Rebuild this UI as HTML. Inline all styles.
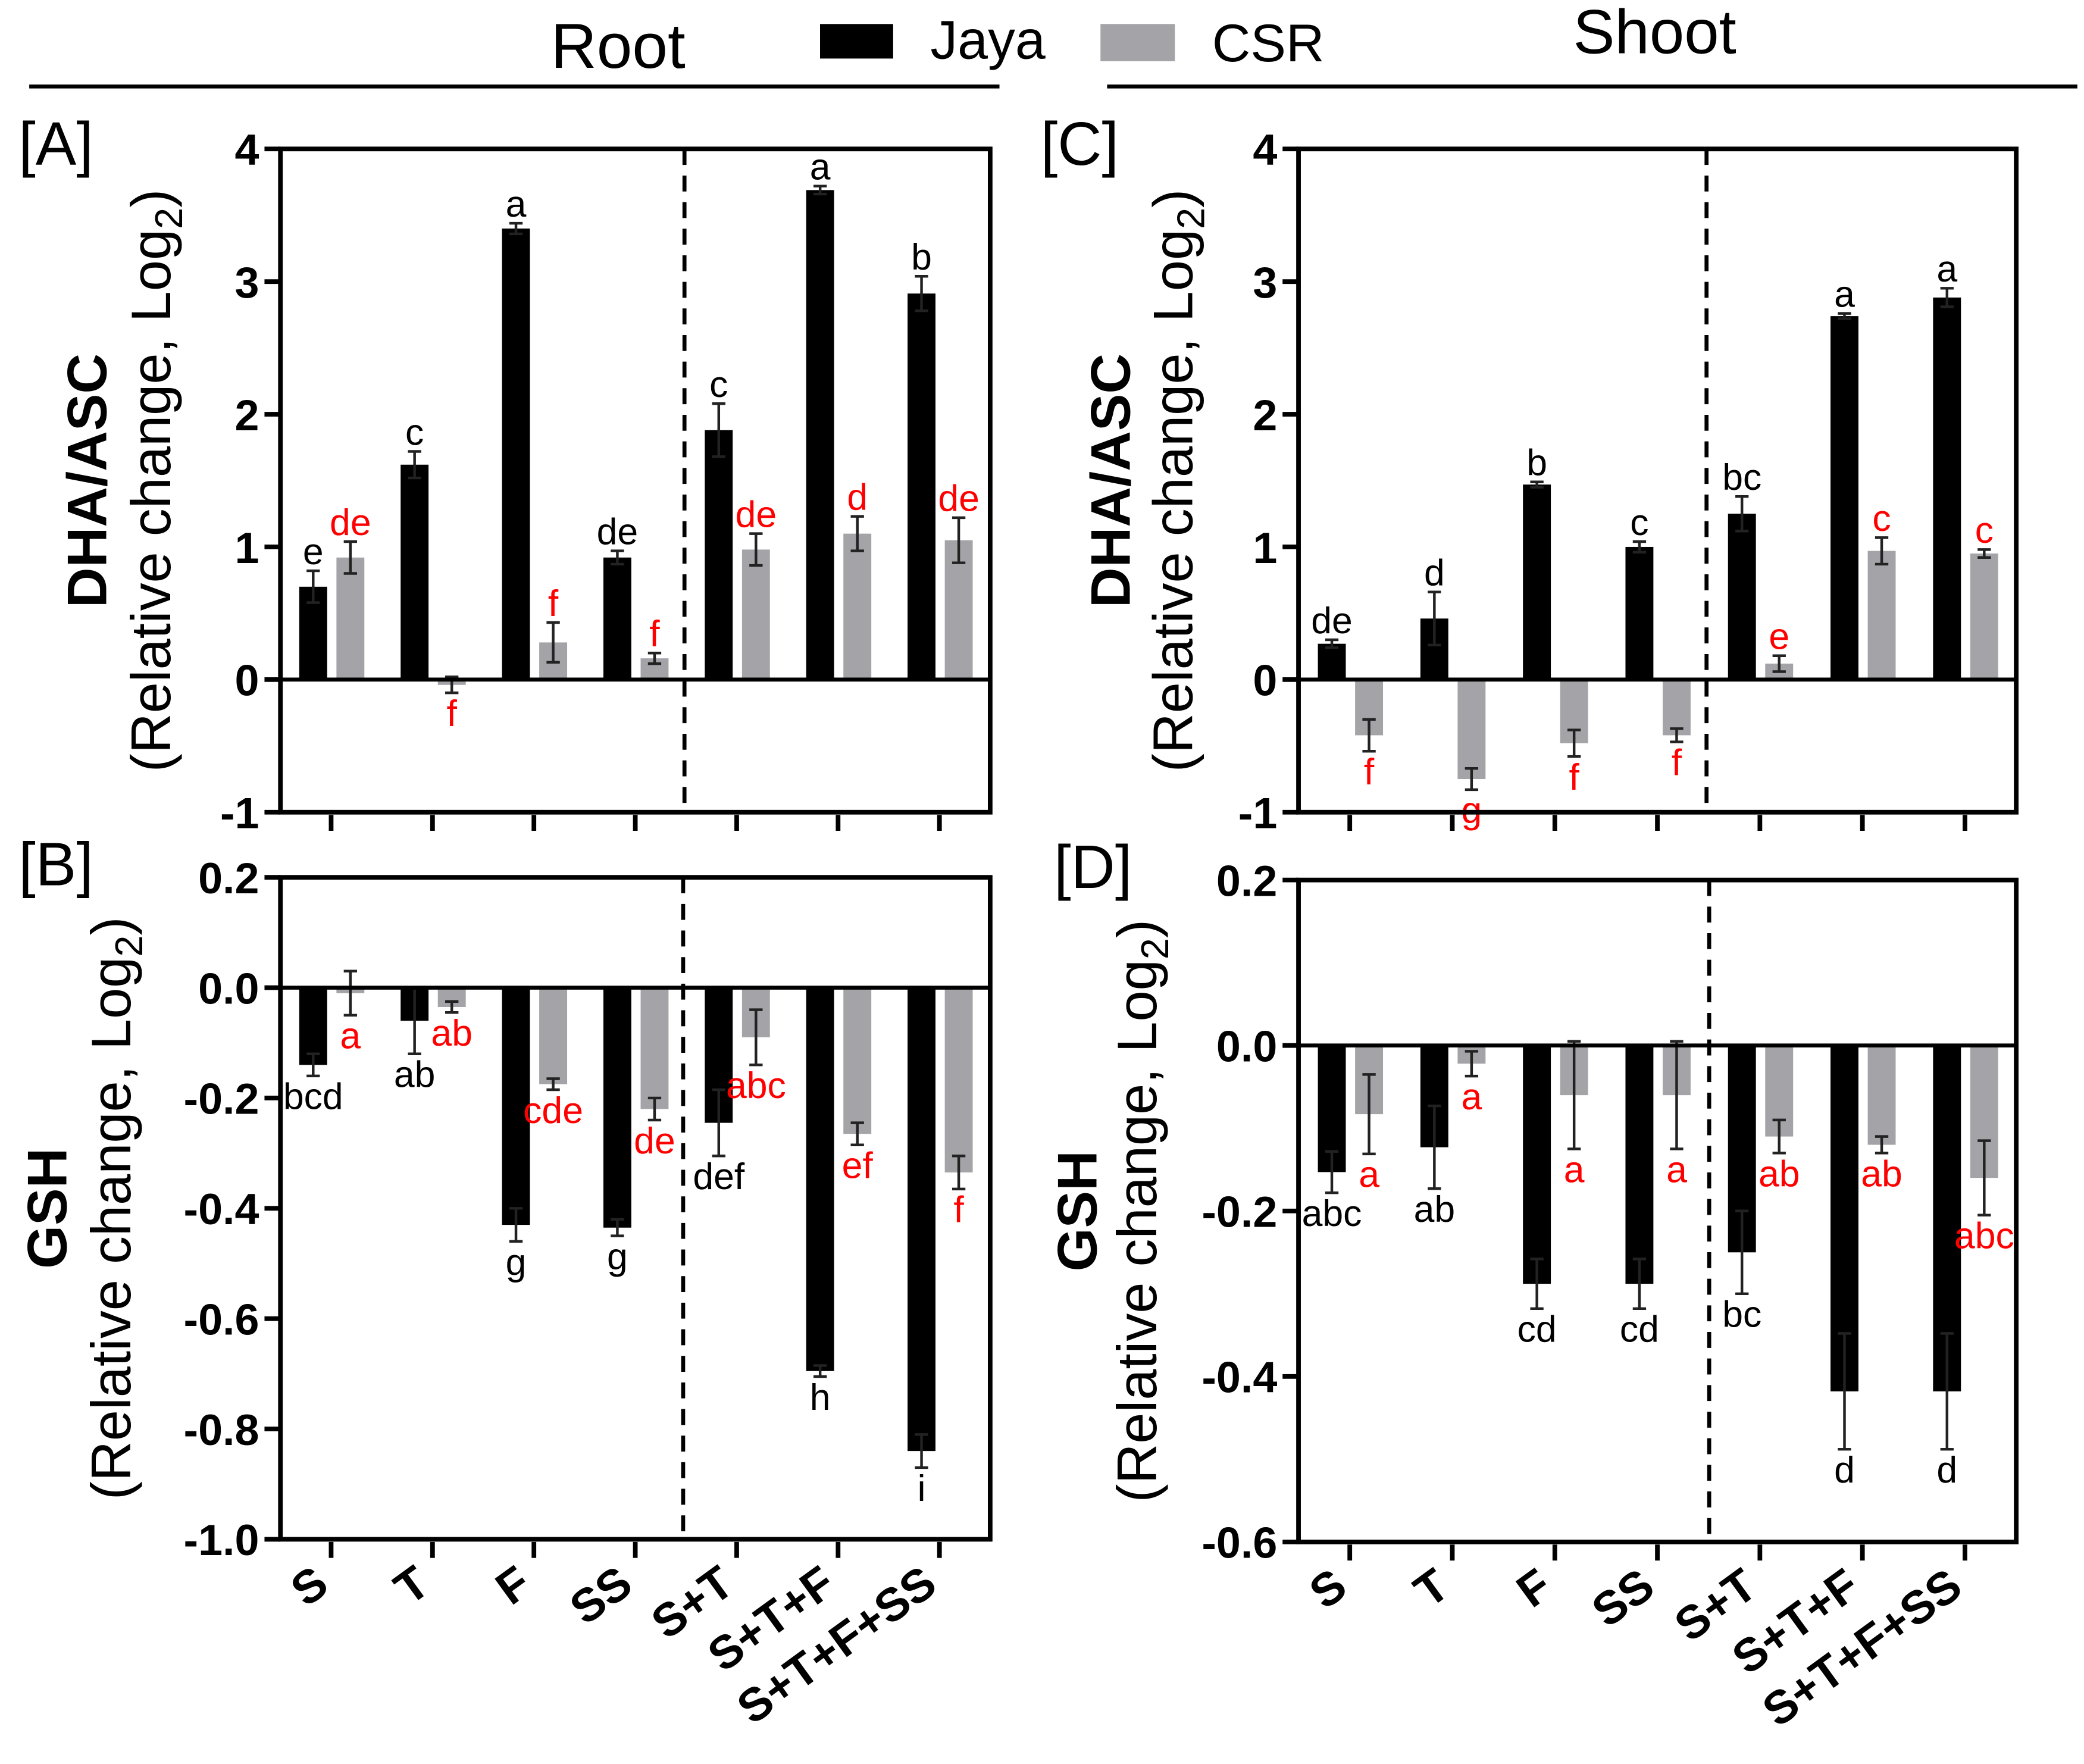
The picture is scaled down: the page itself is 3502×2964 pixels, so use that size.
<!DOCTYPE html>
<html><head><meta charset="utf-8"><style>
html,body{margin:0;padding:0;background:#fff;}
svg{display:block;font-family:"Liberation Sans",Arial,sans-serif;}
</style></head><body>
<svg id="fig" width="3502" height="2964" viewBox="0 0 1568 1327" xmlns="http://www.w3.org/2000/svg">
<rect width="1568" height="1327" fill="#fff"/>
<g>
<text x="465" y="51" font-size="48" text-anchor="middle">Root</text>
<line x1="22" y1="65" x2="752" y2="65" stroke="#000" stroke-width="3"/>
<text x="1245" y="40" font-size="47" text-anchor="middle">Shoot</text>
<line x1="833" y1="65" x2="1563" y2="65" stroke="#000" stroke-width="3"/>
<rect x="617" y="18" width="55" height="26" fill="#000"/>
<text x="700" y="44" font-size="41">Jaya</text>
<rect x="828" y="18" width="56" height="28" fill="#a3a3a8"/>
<text x="912" y="46" font-size="40">CSR</text>
</g>
<g id="plots"></g>
</svg>
<script>
const categories = ["S","T","F","SS","S+T","S+T+F","S+T+F+SS"];
// Panel A: Root DHA/ASC
const aJaya = [0.70,1.62,3.40,0.92,1.88,3.69,2.91];
const aJayaErr = [0.12,0.10,0.04,0.05,0.20,0.03,0.13];
const aCsr = [0.92,-0.04,0.28,0.16,0.98,1.10,1.05];
const aCsrErr = [0.12,0.06,0.15,0.04,0.12,0.13,0.17];
const aJayaLet = ["e","c","a","de","c","a","b"];
const aCsrLet = ["de","f","f","f","de","d","de"];
const aTicks = ["4","3","2","1","0","-1"];
// Panel B: Root GSH
const bJaya = [-0.14,-0.06,-0.43,-0.435,-0.245,-0.695,-0.84];
const bJayaErr = [0.02,0.06,0.03,0.015,0.06,0.01,0.03];
const bCsr = [-0.01,-0.035,-0.175,-0.22,-0.09,-0.265,-0.335];
const bCsrErr = [0.04,0.01,0.01,0.02,0.05,0.02,0.03];
const bJayaLet = ["bcd","ab","g","g","def","h","i"];
const bCsrLet = ["a","ab","cde","de","abc","ef","f"];
const bTicks = ["0.2","0.0","-0.2","-0.4","-0.6","-0.8","-1.0"];
// Panel C: Shoot DHA/ASC
const cJaya = [0.27,0.46,1.47,1.00,1.25,2.74,2.88];
const cJayaErr = [0.03,0.20,0.02,0.04,0.13,0.02,0.07];
const cCsr = [-0.42,-0.75,-0.48,-0.42,0.12,0.97,0.95];
const cCsrErr = [0.12,0.08,0.10,0.05,0.06,0.10,0.03];
const cJayaLet = ["de","d","b","c","bc","a","a"];
const cCsrLet = ["f","g","f","f","e","c","c"];
const cTicks = ["4","3","2","1","0","-1"];
// Panel D: Shoot GSH
const dJaya = [-0.153,-0.123,-0.288,-0.288,-0.25,-0.418,-0.418];
const dJayaErr = [0.025,0.05,0.03,0.03,0.05,0.07,0.07];
const dCsr = [-0.083,-0.022,-0.06,-0.06,-0.11,-0.12,-0.16];
const dCsrErr = [0.048,0.015,0.065,0.065,0.02,0.01,0.045];
const dJayaLet = ["abc","ab","cd","cd","bc","d","d"];
const dCsrLet = ["a","a","a","a","ab","ab","abc"];
const dTicks = ["0.2","0.0","-0.2","-0.4","-0.6"];

const NS="http://www.w3.org/2000/svg";
const root=document.getElementById('plots');
function mk(tag,attrs,parent,txt){const e=document.createElementNS(NS,tag);for(const k in attrs)e.setAttribute(k,attrs[k]);if(txt!==undefined)e.textContent=txt;(parent||root).appendChild(e);return e;}

function panel(o){
  const g=mk('g',{});
  
  
  const y=v=>o.y0+(o.ymax-v)/(o.ymax-o.ymin)*(o.y1-o.y0);
  const step=(o.x1-o.x0)/7;
  const cx=i=>o.x0+step*(i+0.5);
  const lab=mk('text',{x:o.labX,y:o.labY,'font-size':46},g,o.label);
  
  
  const t1=mk('text',{transform:`translate(${o.t1x},${(o.y0+o.y1)/2}) rotate(-90)`,'font-size':42,'font-weight':'bold','text-anchor':'middle'},g,o.title1);
  
  
  const t2=mk('text',{transform:`translate(${o.t2x},${(o.y0+o.y1)/2}) rotate(-90)`,'font-size':42,'text-anchor':'middle'},g);
  
  
  t2.innerHTML='(Relative change, Log<tspan font-size="29" dy="9">2</tspan><tspan dy="-9">)</tspan>';
  o.ticks.forEach(t=>{
    const v=parseFloat(t);const yy=y(v);
    const tl=mk('line',{x1:o.x0-12,x2:o.x0,y1:yy,y2:yy,stroke:'#000','stroke-width':3.5},g);
    
    
    const tx=mk('text',{x:o.x0-16,y:yy+12,'font-size':33,'font-weight':'bold','text-anchor':'end'},g,t);
    
    
  });
  const y0=y(0);
  function bar(v,e,xc,fill,lt,col,nm){
    const top=Math.min(y(v),y0),h=Math.abs(y(v)-y0);
    const r=mk('rect',{x:xc-10.5,y:top,width:21,height:Math.max(h,1),fill:fill},g);
    
    
    const ya=y(v+e),yb=y(v-e);
    const eb=mk('path',{d:`M${xc},${ya}V${yb}M${xc-5},${ya}H${xc+5}M${xc-5},${yb}H${xc+5}`,stroke:'#222','stroke-width':2,fill:'none'},g);
    
    
    let ly= v>=0 ? y(v+e)-5 : y(v-e)+25;
    const l=mk('text',{x:xc,y:ly,'font-size':28,'text-anchor':'middle',fill:col},g,lt);
    
    
  }
  categories.forEach((c,i)=>{
    bar(o.jaya[i],o.jErr[i],cx(i)-13.5,'#000',o.jLet[i],'#000','bar-jaya-'+i);
    bar(o.csr[i],o.cErr[i],cx(i)+14.5,'#a3a3a8',o.cLet[i],'#f00','bar-csr-'+i);
    const xt=mk('line',{x1:cx(i),x2:cx(i),y1:o.y1+2,y2:o.y1+14,stroke:'#000','stroke-width':3.5},g);
    
    
    if(o.xlabels){
      const xl=mk('text',{transform:`translate(${cx(i)},${o.y1+38}) rotate(-36)`,'font-size':35,'font-weight':'bold','text-anchor':'end'},g,c);
      
      
    }
  });
  const zl=mk('line',{x1:o.x0,x2:o.x1,y1:y0,y2:y0,stroke:'#000','stroke-width':3},g);
  
  
  const dl=mk('line',{x1:o.dash,x2:o.dash,y1:o.y0,y2:o.y1-6,stroke:'#000','stroke-width':3,'stroke-dasharray':'12,8'},g);
  
  
  const fr=mk('rect',{x:o.x0,y:o.y0,width:o.x1-o.x0,height:o.y1-o.y0,fill:'none',stroke:'#000','stroke-width':3.5},g);
  
  
}
panel({name:'panel-a',label:'[A]',labX:14,labY:124,title1:'DHA/ASC',t1x:80,t2x:128,x0:211,x1:745,y0:112,y1:611,ymax:4,ymin:-1,ticks:aTicks,jaya:aJaya,jErr:aJayaErr,csr:aCsr,cErr:aCsrErr,jLet:aJayaLet,cLet:aCsrLet,dash:515,xlabels:false});
panel({name:'panel-b',label:'[B]',labX:14,labY:666,title1:'GSH',t1x:50,t2x:98,x0:211,x1:745,y0:660,y1:1158,ymax:0.2,ymin:-1.0,ticks:bTicks,jaya:bJaya,jErr:bJayaErr,csr:bCsr,cErr:bCsrErr,jLet:bJayaLet,cLet:bCsrLet,dash:514,xlabels:true});
panel({name:'panel-c',label:'[C]',labX:783,labY:124,title1:'DHA/ASC',t1x:850,t2x:897,x0:977,x1:1517,y0:112,y1:611,ymax:4,ymin:-1,ticks:cTicks,jaya:cJaya,jErr:cJayaErr,csr:cCsr,cErr:cCsrErr,jLet:cJayaLet,cLet:cCsrLet,dash:1284,xlabels:false});
panel({name:'panel-d',label:'[D]',labX:793,labY:668,title1:'GSH',t1x:825,t2x:870,x0:977,x1:1517,y0:662,y1:1160,ymax:0.2,ymin:-0.6,ticks:dTicks,jaya:dJaya,jErr:dJayaErr,csr:dCsr,cErr:dCsrErr,jLet:dJayaLet,cLet:dCsrLet,dash:1286,xlabels:true});
</script>
</body></html>
